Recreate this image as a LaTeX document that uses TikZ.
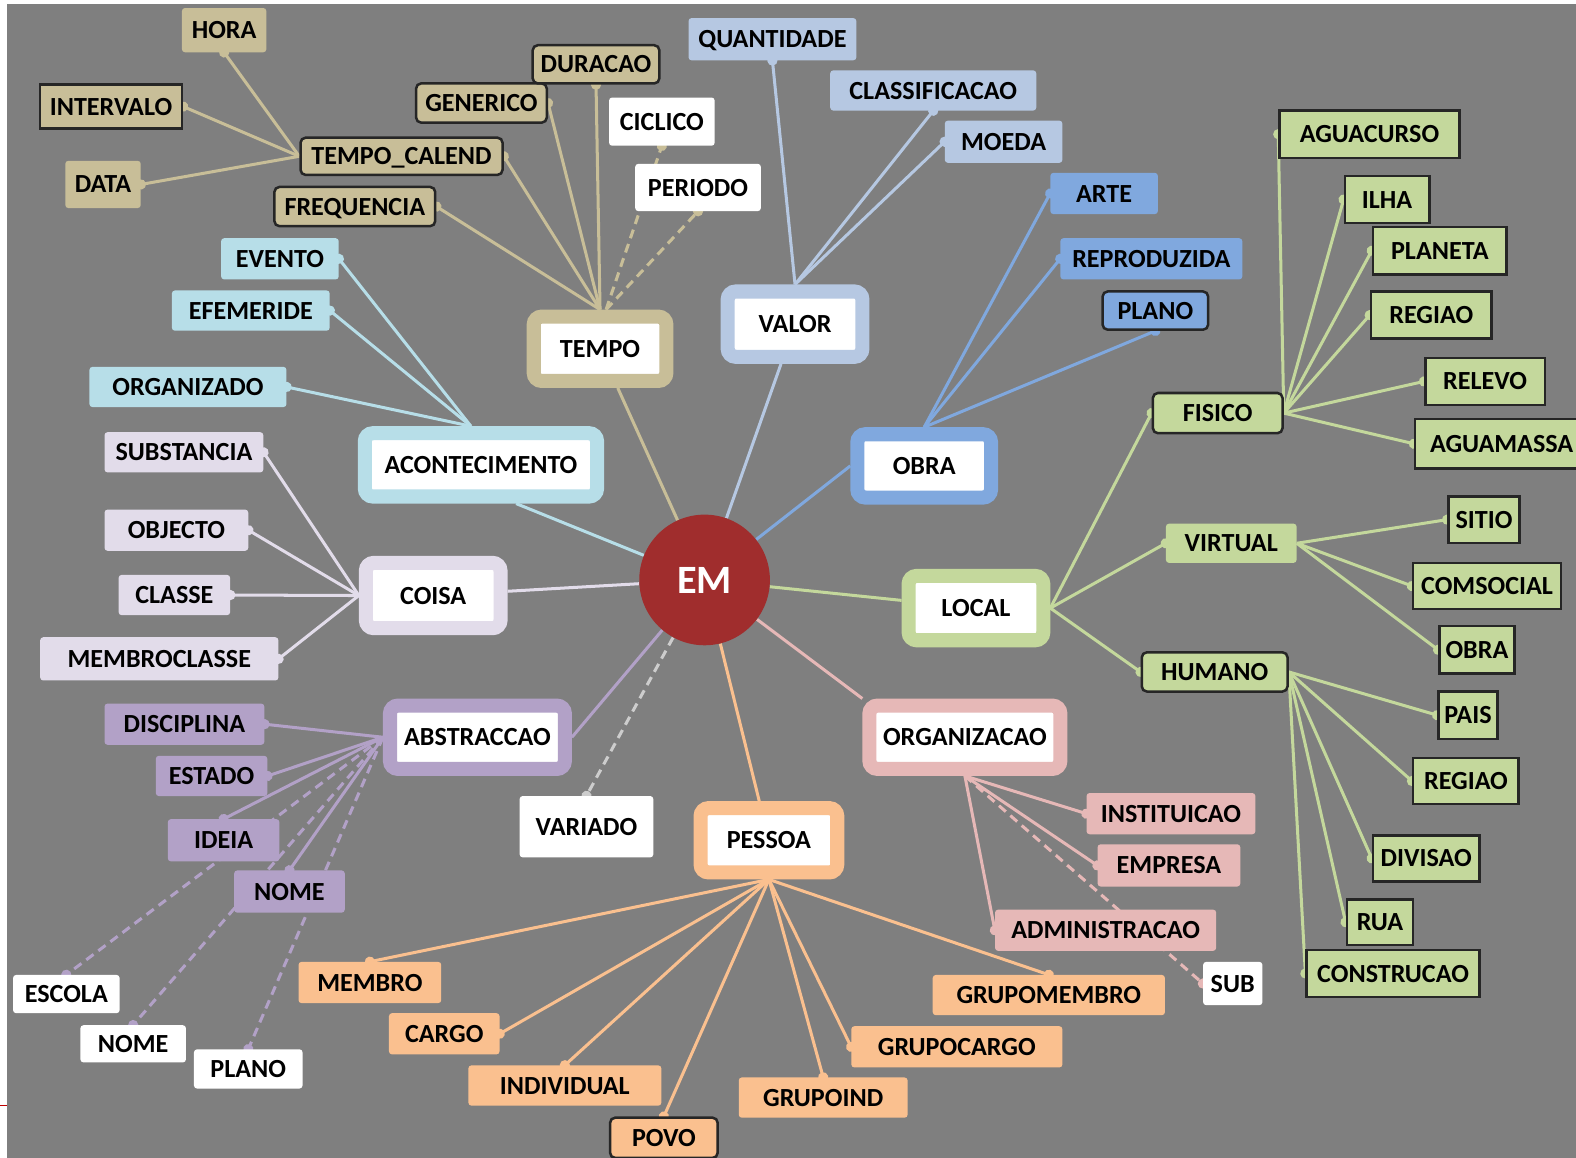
\documentclass[tikz,border=0pt]{standalone}
\usepackage{fontspec}
\setmainfont{Carlito}
\usetikzlibrary{arrows.meta,backgrounds}

\definecolor{bggray}{RGB}{127,127,127}
\definecolor{emred}{RGB}{160,45,45}
\definecolor{tempoc}{RGB}{200,190,152}
\definecolor{valorc}{RGB}{182,200,226}
\definecolor{obrac}{RGB}{128,168,222}
\definecolor{localc}{RGB}{196,216,156}
\definecolor{orgc}{RGB}{230,184,183}
\definecolor{pessoac}{RGB}{250,192,143}
\definecolor{abstc}{RGB}{178,161,199}
\definecolor{coisac}{RGB}{226,220,234}
\definecolor{acontc}{RGB}{183,222,232}
\definecolor{varc}{RGB}{205,205,205}

\tikzset{
  every node/.style={font=\bfseries\fontsize{26}{28}\selectfont, inner sep=0pt,
    text height=17pt, text depth=0pt},
  hub/.style={fill=white, draw=#1, line width=14pt, rounded corners=8pt},
  leaf/.style={fill=#1, rounded corners=3pt},
  framed/.style={draw=black!85, line width=2.5pt, rounded corners=5pt},
  field/.style={leaf=localc, framed, sharp corners},
  stem/.style={draw=#1, line width=3pt},
  link/.style={draw=#1, line width=3pt, -{Circle[length=10pt]}, shorten >=-5pt},
  broken/.style={dash pattern=on 9pt off 6pt}
}

\begin{document}
\begin{tikzpicture}[x=1pt,y=-1pt]
  \useasboundingbox (0,0) rectangle (1568,1152);

  % centre
  \node[circle, fill=emred, minimum size=130pt, text=white,
        font=\bfseries\fontsize{40}{44}\selectfont, text height=26pt] (em) at (701,577) {EM};

  % main classes
  \node[hub=tempoc, minimum width=132pt, minimum height=64pt] (tempo) at (597,347) {TEMPO};
  \node[hub=valorc, minimum width=134pt, minimum height=65pt] (valor) at (791,322.5) {VALOR};
  \node[hub=acontc, minimum width=231pt, minimum height=63pt] (acontecimento) at (478.5,462.5) {ACONTECIMENTO};
  \node[hub=obrac, minimum width=133pt, minimum height=63pt] (obra) at (919.5,463.5) {OBRA};
  \node[hub=coisac, minimum width=134pt, minimum height=65pt] (coisa) at (431,592.5) {COISA};
  \node[hub=localc, minimum width=134pt, minimum height=64pt] (local) at (971,605) {LOCAL};
  \node[hub=abstc, minimum width=174pt, minimum height=63pt] (abstraccao) at (475,733.5) {ABSTRACCAO};
  \node[hub=orgc, minimum width=190pt, minimum height=63pt] (organizacao) at (960,733.5) {ORGANIZACAO};
  \node[hub=pessoac, minimum width=136pt, minimum height=64pt] (pessoa) at (765,836) {PESSOA};
  \node[leaf=white, minimum width=133pt, minimum height=61pt] (variado) at (583.5,822.5) {VARIADO};

  % tempo
  \node[leaf=tempoc, minimum width=84pt, minimum height=44pt] (hora) at (223,30) {HORA};
  \node[leaf=tempoc, framed, sharp corners, minimum width=141pt, minimum height=44pt] (intervalo) at (110.5,106) {INTERVALO};
  \node[leaf=tempoc, minimum width=75pt, minimum height=47pt] (data) at (102.5,183.5) {DATA};
  \node[leaf=tempoc, framed, minimum width=201pt, minimum height=37pt] (calend) at (399.5,155.5) {TEMPO\_CALEND};
  \node[leaf=tempoc, framed, minimum width=130pt, minimum height=39pt] (generico) at (479,102.5) {GENERICO};
  \node[leaf=tempoc, framed, minimum width=126pt, minimum height=38pt] (duracao) at (593,64) {DURACAO};
  \node[leaf=white, minimum width=105pt, minimum height=48pt] (ciclico) at (658.5,121) {CICLICO};
  \node[leaf=white, minimum width=125pt, minimum height=47pt] (periodo) at (694.5,186.5) {PERIODO};
  \node[leaf=tempoc, framed, minimum width=160pt, minimum height=39pt] (frequencia) at (353,205.5) {FREQUENCIA};

  % valor
  \node[leaf=valorc, minimum width=167pt, minimum height=42pt] (quantidade) at (768.5,39) {QUANTIDADE};
  \node[leaf=valorc, minimum width=205pt, minimum height=40pt] (classificacao) at (928.5,90) {CLASSIFICACAO};
  \node[leaf=valorc, minimum width=117pt, minimum height=42pt] (moeda) at (998.5,141) {MOEDA};

  % obra
  \node[leaf=obrac, minimum width=107pt, minimum height=41pt] (arte) at (1098.5,192.5) {ARTE};
  \node[leaf=obrac, minimum width=181pt, minimum height=41pt] (reproduzida) at (1145.5,257.5) {REPRODUZIDA};
  \node[leaf=obrac, framed, minimum width=105pt, minimum height=38pt] (plano) at (1149.5,309) {PLANO};

  % local
  \node[leaf=localc, framed, minimum width=129pt, minimum height=40pt] (fisico) at (1211.5,411) {FISICO};
  \node[leaf=localc, minimum width=130pt, minimum height=39pt] (virtual) at (1225,540.5) {VIRTUAL};
  \node[leaf=localc, framed, minimum width=145pt, minimum height=39pt] (humano) at (1208.5,668.5) {HUMANO};
  \node[field, minimum width=179pt, minimum height=47pt] (aguacurso) at (1362.5,133.5) {AGUACURSO};
  \node[field, minimum width=84pt, minimum height=47pt] (ilha) at (1380,198.5) {ILHA};
  \node[field, minimum width=133pt, minimum height=47pt] (planeta) at (1432.5,249.5) {PLANETA};
  \node[field, minimum width=120pt, minimum height=47pt] (regiao) at (1424,313.5) {REGIAO};
  \node[field, minimum width=119pt, minimum height=47pt] (relevo) at (1477.5,379.5) {RELEVO};
  \node[field, minimum width=172pt, minimum height=49pt] (aguamassa) at (1494,441.5) {AGUAMASSA};
  \node[field, minimum width=71pt, minimum height=46pt] (sitio) at (1476.5,517) {SITIO};
  \node[field, minimum width=147pt, minimum height=46pt] (comsocial) at (1479.5,583) {COMSOCIAL};
  \node[field, minimum width=75pt, minimum height=47pt] (obrav) at (1469.5,646.5) {OBRA};
  \node[field, minimum width=59pt, minimum height=47pt] (pais) at (1460.5,711.5) {PAIS};
  \node[field, minimum width=105pt, minimum height=46pt] (regiaoh) at (1458.5,777) {REGIAO};
  \node[field, minimum width=106pt, minimum height=46pt] (divisao) at (1419,854) {DIVISAO};
  \node[field, minimum width=66pt, minimum height=45pt] (rua) at (1373,917.5) {RUA};
  \node[field, minimum width=172pt, minimum height=47pt] (construcao) at (1386,968.5) {CONSTRUCAO};

  % organizacao
  \node[leaf=orgc, minimum width=168pt, minimum height=41pt] (instituicao) at (1165,809.5) {INSTITUICAO};
  \node[leaf=orgc, minimum width=142pt, minimum height=42pt] (empresa) at (1163,861) {EMPRESA};
  \node[leaf=orgc, minimum width=220pt, minimum height=41pt] (administracao) at (1100,925.5) {ADMINISTRACAO};
  \node[leaf=white, minimum width=59pt, minimum height=43pt] (sub) at (1226.5,978.5) {SUB};

  % pessoa
  \node[leaf=pessoac, minimum width=142pt, minimum height=41pt] (membro) at (368,977.5) {MEMBRO};
  \node[leaf=pessoac, minimum width=110pt, minimum height=41pt] (cargo) at (442,1028.5) {CARGO};
  \node[leaf=pessoac, minimum width=192pt, minimum height=40pt] (individual) at (562,1080) {INDIVIDUAL};
  \node[leaf=pessoac, framed, minimum width=107pt, minimum height=40pt] (povo) at (660.5,1132) {POVO};
  \node[leaf=pessoac, minimum width=168pt, minimum height=40pt] (grupoind) at (819,1092) {GRUPOIND};
  \node[leaf=pessoac, minimum width=210pt, minimum height=41pt] (grupocargo) at (952,1041.5) {GRUPOCARGO};
  \node[leaf=pessoac, minimum width=231pt, minimum height=40pt] (grupomembro) at (1043.5,990) {GRUPOMEMBRO};

  % abstraccao
  \node[leaf=abstc, minimum width=159pt, minimum height=41pt] (disciplina) at (183.5,720.5) {DISCIPLINA};
  \node[leaf=abstc, minimum width=111pt, minimum height=40pt] (estado) at (210.5,772) {ESTADO};
  \node[leaf=abstc, minimum width=111pt, minimum height=42pt] (ideia) at (222.5,836) {IDEIA};
  \node[leaf=abstc, minimum width=110pt, minimum height=42pt] (nomep) at (288,887) {NOME};
  \node[leaf=white, minimum width=106pt, minimum height=38pt] (escola) at (66,989) {ESCOLA};
  \node[leaf=white, minimum width=105pt, minimum height=37pt] (nomew) at (132.5,1038.5) {NOME};
  \node[leaf=white, minimum width=108pt, minimum height=39pt] (planow) at (247,1063.5) {PLANO};

  % coisa
  \node[leaf=coisac, minimum width=158pt, minimum height=40pt] (substancia) at (183,450) {SUBSTANCIA};
  \node[leaf=coisac, minimum width=143pt, minimum height=41pt] (objecto) at (175.5,527.5) {OBJECTO};
  \node[leaf=coisac, minimum width=111pt, minimum height=40pt] (classe) at (173.5,592) {CLASSE};
  \node[leaf=coisac, minimum width=237pt, minimum height=43pt] (membroclasse) at (158.5,655.5) {MEMBROCLASSE};

  % acontecimento
  \node[leaf=acontc, minimum width=117pt, minimum height=41pt] (evento) at (278.5,257.5) {EVENTO};
  \node[leaf=acontc, minimum width=157pt, minimum height=40pt] (efemeride) at (249.5,309) {EFEMERIDE};
  \node[leaf=acontc, minimum width=196pt, minimum height=40pt] (organizado) at (187,385) {ORGANIZADO};

  \begin{pgfonlayer}{background}
    % background
    \fill[white] (0,0) rectangle (1568,1152);
    \fill[bggray] (7,4) rectangle (1568,1152);
    \draw[red!75!black, line width=1.5pt] (0,1100) -- (7,1100);

    % centre to main classes
    \draw[stem=tempoc] (tempo) -- (em);
    \draw[stem=valorc] (valor) -- (em);
    \draw[stem=obrac] (obra.west) -- (em);
    \draw[stem=localc] (local) -- (em);
    \draw[stem=orgc] (organizacao.north west) -- (em);
    \draw[stem=pessoac] (pessoa) -- (em);
    \draw[stem=abstc] (abstraccao.east) -- (em);
    \draw[stem=coisac] (coisa) -- (em);
    \draw[stem=acontc] ([xshift=35pt]acontecimento.south) -- (em);
    \draw[link=varc, broken] (em) -- (variado.north);

    % tempo
    \foreach \c/\a in {calend/east, generico/east, duracao/south, frequencia/east}
      \draw[link=tempoc] (tempo.north) -- (\c.\a);
    \foreach \c in {ciclico, periodo}
      \draw[link=tempoc, broken] ([xshift=6pt]tempo.north) -- (\c.south);
    \foreach \c/\a in {hora/south, intervalo/east, data/east}
      \draw[link=tempoc] (calend.west) -- (\c.\a);

    % valor
    \foreach \c/\a in {quantidade/south, classificacao/south, moeda/west}
      \draw[link=valorc] (valor.north) -- (\c.\a);

    % obra
    \foreach \c/\a in {arte/west, reproduzida/west, plano/south}
      \draw[link=obrac] (obra.north) -- (\c.\a);

    % local
    \foreach \c in {fisico, virtual, humano}
      \draw[link=localc] (local.east) -- (\c.west);
    \foreach \c in {aguacurso, ilha, planeta, regiao, relevo, aguamassa}
      \draw[link=localc] (fisico.east) -- (\c.west);
    \foreach \c in {sitio, comsocial, obrav}
      \draw[link=localc] (virtual.east) -- (\c.west);
    \foreach \c in {pais, regiaoh, divisao, rua, construcao}
      \draw[link=localc] (humano.east) -- (\c.west);

    % organizacao
    \foreach \c in {instituicao, empresa, administracao}
      \draw[link=orgc] (organizacao.south) -- (\c.west);
    \draw[link=orgc, broken] (organizacao.south) -- (sub.west);

    % pessoa
    \foreach \c/\a in {membro/north, cargo/east, individual/north, povo/north,
                       grupoind/north, grupocargo/west, grupomembro/north}
      \draw[link=pessoac] (pessoa.south) -- (\c.\a);

    % abstraccao
    \foreach \c/\a in {disciplina/east, estado/east, ideia/north, nomep/north}
      \draw[link=abstc] (abstraccao.west) -- (\c.\a);
    \foreach \c in {escola, nomew, planow}
      \draw[link=abstc, broken] (abstraccao.west) -- (\c.north);

    % coisa
    \foreach \c in {substancia, objecto, classe, membroclasse}
      \draw[link=coisac] (coisa.west) -- (\c.east);

    % acontecimento
    \foreach \c in {evento, efemeride, organizado}
      \draw[link=acontc] ([xshift=-10pt]acontecimento.north) -- (\c.east);
  \end{pgfonlayer}
\end{tikzpicture}
\end{document}
